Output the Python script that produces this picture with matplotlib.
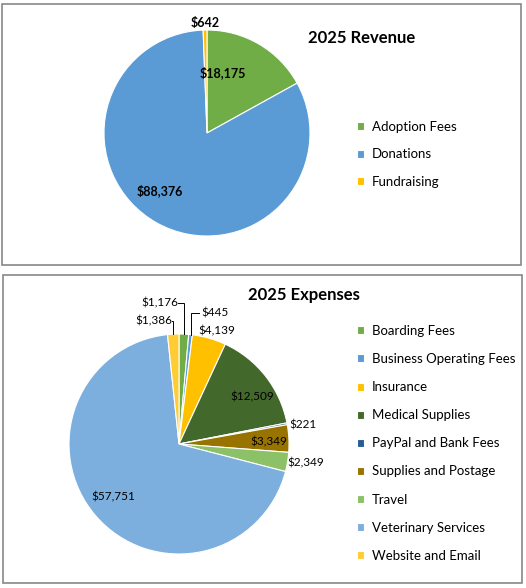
import matplotlib
matplotlib.use("Agg")
import matplotlib.pyplot as plt
from matplotlib.patches import Rectangle
import numpy as np

plt.rcParams["font.family"] = ["Lato", "DejaVu Sans"]

# ===== 数据 =====
rev_labels = ["Adoption Fees", "Donations", "Fundraising"]
rev_values = [18175, 88376, 642]
rev_colors = ["#70AD47", "#5B9BD5", "#FFC000"]

exp_labels = ["Boarding Fees", "Business Operating Fees", "Insurance",
              "Medical Supplies", "PayPal and Bank Fees", "Supplies and Postage",
              "Travel", "Veterinary Services", "Website and Email"]
exp_values = [1176, 445, 4139, 12509, 221, 3349, 2349, 57751, 1386]
exp_colors = ["#70AD47", "#5B9BD5", "#FFC000", "#43682B", "#255E91",
              "#997300", "#8CC168", "#7CAFDD", "#FFCD33"]

W, H, DPI = 526, 588, 100
fig = plt.figure(figsize=(W / DPI, H / DPI), dpi=DPI)


def fig_box(x0, y0, x1, y1):
    """像素坐标（左上原点）-> figure 坐标"""
    return [x0 / W, 1 - y1 / H, (x1 - x0) / W, (y1 - y0) / H]


def money(v):
    return f"${v:,}"


# ===== 外框 =====
for (x0, y0, x1, y1) in [(2, 4, 521, 265), (3, 275, 522, 583)]:
    fig.add_artist(Rectangle((x0 / W, 1 - y1 / H), (x1 - x0) / W, (y1 - y0) / H,
                             transform=fig.transFigure, fill=False,
                             edgecolor="#888888", linewidth=1.2))


def pie_axes(cx, cy, r):
    return fig.add_axes(fig_box(cx - r, cy - r, cx + r, cy + r))


# ===== 收入饼图 =====
ax1 = pie_axes(207, 133, 103)
w1, _ = ax1.pie(rev_values, colors=rev_colors, startangle=90, counterclock=False,
                radius=1, wedgeprops=dict(edgecolor="white", linewidth=0.8))
ax1.set_xlim(-1, 1)
ax1.set_ylim(-1, 1)
ax1.set_aspect("equal")
ax1.axis("off")

rev_label_pos = [(0.155, 0.59), (-0.456, -0.563), (-0.02, 1.07)]
for v, (x, y) in zip(rev_values, rev_label_pos):
    ax1.text(x, y, money(v), ha="center", va="center", fontsize=9,
             fontweight="bold", color="#000000")

fig.text(362 / W, 1 - 38 / H, "2025 Revenue", ha="center", va="center",
         fontsize=12, fontweight="bold")

fig.legend(w1, rev_labels, loc="upper left",
           bbox_to_anchor=(357 / W, 1 - 121 / H), frameon=False,
           fontsize=9.5, handlelength=0.55, handleheight=0.55,
           handletextpad=0.6, labelspacing=1.17, borderpad=0, borderaxespad=0)

# ===== 支出饼图 =====
ax2 = pie_axes(179, 444, 110)
w2, _ = ax2.pie(exp_values, colors=exp_colors, startangle=90, counterclock=False,
                radius=1, wedgeprops=dict(edgecolor="white", linewidth=0.8))
ax2.set_xlim(-1, 1)
ax2.set_ylim(-1, 1)
ax2.set_aspect("equal")
ax2.axis("off")

# 标签位置（数据坐标）与对齐方式
exp_label_pos = [(-0.01, 1.28, "right"), (0.2, 1.195, "left"), (0.345, 1.03, "center"),
                 (0.664, 0.427, "center"), (1.0, 0.173, "left"), (0.818, 0.018, "center"),
                 (1.155, -0.173, "center"), (-0.6, -0.48, "center"), (-0.06, 1.115, "right")]
for v, (x, y, ha) in zip(exp_values, exp_label_pos):
    ax2.text(x, y, money(v), ha=ha, va="center", fontsize=8.5, color="#000000")

# 引导线：从扇形中点边缘到标签
leaders = {0: (1.28, -0.01), 1: (1.195, 0.18), 8: (1.115, -0.06)}
for i, (ly, lx) in leaders.items():
    w = w2[i]
    mid = np.deg2rad((w.theta1 + w.theta2) / 2)
    ex, ey = np.cos(mid), np.sin(mid)
    ax2.plot([ex, ex, lx], [ey, ly, ly], color="#000000", lw=0.7,
             clip_on=False, solid_joinstyle="miter")

fig.text(304 / W, 1 - 295 / H, "2025 Expenses", ha="center", va="center",
         fontsize=12, fontweight="bold")

fig.legend(w2, exp_labels, loc="upper left",
           bbox_to_anchor=(357 / W, 1 - 325 / H), frameon=False,
           fontsize=9.5, handlelength=0.55, handleheight=0.55,
           handletextpad=0.6, labelspacing=1.22, borderpad=0, borderaxespad=0)

plt.savefig("out.png", dpi=DPI)
plt.close(fig)
